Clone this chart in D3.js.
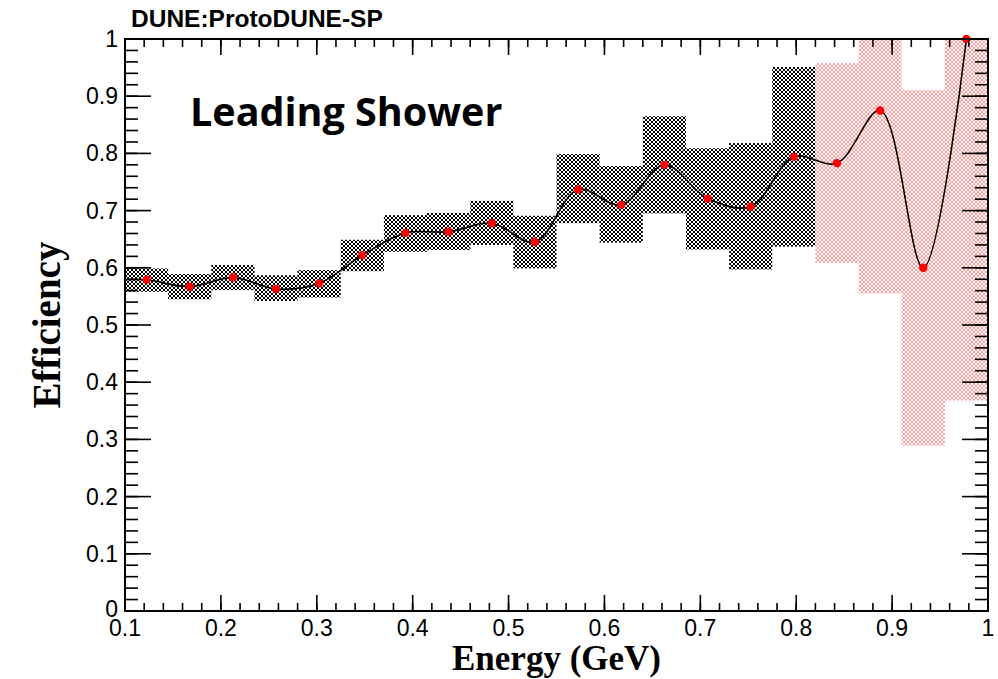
<!DOCTYPE html>
<html>
<head>
<meta charset="utf-8">
<script src="https://cdn.jsdelivr.net/npm/d3@7"></script>
<style>
  body { margin: 0; background: #fff; }
  svg { display: block; }
</style>
</head>
<body>
<script>
// data: 20 energy bins of 0.045 GeV
var binLow  = [0.100, 0.145, 0.190, 0.235, 0.280, 0.325, 0.370, 0.415, 0.460, 0.505,
               0.550, 0.595, 0.640, 0.685, 0.730, 0.775, 0.820, 0.865, 0.910, 0.955];
var binHigh = [0.145, 0.190, 0.235, 0.280, 0.325, 0.370, 0.415, 0.460, 0.505, 0.550,
               0.595, 0.640, 0.685, 0.730, 0.775, 0.820, 0.865, 0.910, 0.955, 1.000];
var energy  = [0.1225, 0.1675, 0.2125, 0.2575, 0.3025, 0.3475, 0.3925, 0.4375, 0.4825, 0.5275,
               0.5725, 0.6175, 0.6625, 0.7075, 0.7525, 0.7975, 0.8425, 0.8875, 0.9325, 0.9775];
var effic   = [0.579, 0.567, 0.583, 0.563, 0.573, 0.622, 0.661, 0.663, 0.678, 0.645,
               0.737, 0.710, 0.780, 0.721, 0.707, 0.794, 0.783, 0.875, 0.600, 1.000];
var errUp   = [0.599, 0.589, 0.605, 0.587, 0.596, 0.649, 0.692, 0.696, 0.717, 0.691,
               0.799, 0.778, 0.865, 0.809, 0.818, 0.951, 0.958, 1.000, 0.911, 1.000];
var errDown = [0.558, 0.545, 0.561, 0.542, 0.548, 0.594, 0.628, 0.631, 0.640, 0.599,
               0.678, 0.644, 0.695, 0.632, 0.597, 0.637, 0.609, 0.555, 0.289, 0.368];
// bins from 0.82 on are drawn in red
var redFrom = 0.82;

var xTicks = [0.1, 0.2, 0.3, 0.4, 0.5, 0.6, 0.7, 0.8, 0.9, 1];
var yTicks = [0, 0.1, 0.2, 0.3, 0.4, 0.5, 0.6, 0.7, 0.8, 0.9, 1];
var xLabels = ["0.1", "0.2", "0.3", "0.4", "0.5", "0.6", "0.7", "0.8", "0.9", "1"];
var yLabels = ["0", "0.1", "0.2", "0.3", "0.4", "0.5", "0.6", "0.7", "0.8", "0.9", "1"];

var canvasWidth = 998;
var canvasHeight = 679;
var margin = {top: 39, right: 10, bottom: 68, left: 125};
var width = canvasWidth - margin.left - margin.right;
var height = canvasHeight - margin.top - margin.bottom;

var svg = d3.select("body").append("svg")
    .attr("width", canvasWidth)
    .attr("height", canvasHeight);

// checkerboard fills like ROOT's dithered error boxes
var defs = svg.append("defs");
function makePattern(id, color) {
  var p = defs.append("pattern")
      .attr("id", id)
      .attr("patternUnits", "userSpaceOnUse")
      .attr("width", 4).attr("height", 4);
  p.append("rect").attr("width", 4).attr("height", 4).attr("fill", "#fff");
  p.append("rect").attr("x", 0).attr("y", 0).attr("width", 2).attr("height", 2).attr("fill", color);
  p.append("rect").attr("x", 2).attr("y", 2).attr("width", 2).attr("height", 2).attr("fill", color);
}
makePattern("checkBlack", "#000");
makePattern("checkRed", "#ff9c9c");

var canvas = svg.append("g")
    .attr("transform", "translate(" + margin.left + "," + margin.top + ")");

var xScale = d3.scaleLinear().domain([0.1, 1]).range([0, width]);
var yScale = d3.scaleLinear().domain([0, 1]).range([height, 0]);

canvas.append("clipPath").attr("id", "frameClip")
  .append("rect").attr("width", width).attr("height", height);

var plot = canvas.append("g").attr("clip-path", "url(#frameClip)");

// error boxes
plot.selectAll(".errbox")
    .data(energy)
    .enter().append("rect")
    .attr("class", "errbox")
    .attr("x", function(d, i) { return xScale(binLow[i]); })
    .attr("width", function(d, i) { return xScale(binHigh[i]) - xScale(binLow[i]); })
    .attr("y", function(d, i) { return yScale(errUp[i]); })
    .attr("height", function(d, i) { return yScale(errDown[i]) - yScale(errUp[i]); })
    .attr("fill", function(d, i) {
      return binLow[i] >= redFrom - 1e-9 ? "url(#checkRed)" : "url(#checkBlack)"; });

// smooth curve through the points, extended flat to the left edge
var curvePts = energy.map(function(d, i) { return [d, effic[i]]; });
curvePts.unshift([xScale.domain()[0], effic[0]]);

var line = d3.line()
    .x(function(d) { return xScale(d[0]); })
    .y(function(d) { return yScale(d[1]); })
    .curve(d3.curveCatmullRom.alpha(0.5));

plot.append("path")
    .datum(curvePts)
    .attr("d", line)
    .attr("fill", "none")
    .attr("stroke", "#000")
    .attr("stroke-width", 1.6);

canvas.selectAll(".dot")
    .data(energy)
    .enter().append("circle")
    .attr("class", "dot")
    .attr("cx", function(d) { return xScale(d); })
    .attr("cy", function(d, i) { return yScale(effic[i]); })
    .attr("r", 4.2)
    .attr("fill", "#ff0000");

// axes, ROOT style: ticks inside, on all four sides
var xMinor = d3.range(0.1, 1.0001, 0.02);
var yMinor = d3.range(0, 1.0001, 0.02);
var xMajorLen = 16, xMinorLen = 8, yMajorLen = 26, yMinorLen = 13;

function drawTicks(vals, isMajor) {
  var xl = isMajor ? xMajorLen : xMinorLen;
  var yl = isMajor ? yMajorLen : yMinorLen;
  var t = canvas.append("g").attr("stroke", "#000").attr("stroke-width", 1.6);
  t.selectAll(".xb").data(vals.x).enter().append("line")
      .attr("x1", function(d) { return xScale(d); }).attr("x2", function(d) { return xScale(d); })
      .attr("y1", height).attr("y2", height - xl);
  t.selectAll(".xt").data(vals.x).enter().append("line")
      .attr("x1", function(d) { return xScale(d); }).attr("x2", function(d) { return xScale(d); })
      .attr("y1", 0).attr("y2", xl);
  t.selectAll(".yl").data(vals.y).enter().append("line")
      .attr("y1", function(d) { return yScale(d); }).attr("y2", function(d) { return yScale(d); })
      .attr("x1", 0).attr("x2", yl);
  t.selectAll(".yr").data(vals.y).enter().append("line")
      .attr("y1", function(d) { return yScale(d); }).attr("y2", function(d) { return yScale(d); })
      .attr("x1", width).attr("x2", width - yl);
}
drawTicks({x: xMinor, y: yMinor}, false);
drawTicks({x: xTicks, y: yTicks}, true);

canvas.append("rect")
    .attr("width", width).attr("height", height)
    .attr("fill", "none").attr("stroke", "#000").attr("stroke-width", 2);

// tick labels
canvas.selectAll(".xlab").data(xTicks).enter().append("text")
    .attr("x", function(d) { return xScale(d); })
    .attr("y", height + 25)
    .attr("text-anchor", "middle")
    .style("font-family", "'Liberation Sans', Arial, sans-serif")
    .style("font-size", "23px")
    .text(function(d, i) { return xLabels[i]; });

canvas.selectAll(".ylab").data(yTicks).enter().append("text")
    .attr("x", -7)
    .attr("y", function(d) { return yScale(d) + (d === 0 ? 6 : 8); })
    .attr("text-anchor", "end")
    .style("font-family", "'Liberation Sans', Arial, sans-serif")
    .style("font-size", "23px")
    .text(function(d, i) { return yLabels[i]; });

// axis titles
svg.append("text")
    .attr("x", margin.left + width / 2)
    .attr("y", 670)
    .attr("text-anchor", "middle")
    .style("font-family", "'Liberation Serif', 'Times New Roman', serif")
    .style("font-weight", "bold")
    .style("font-size", "35px")
    .text("Energy (GeV)");

svg.append("text")
    .attr("transform", "translate(60," + (margin.top + height / 2) + ") rotate(-90)")
    .attr("text-anchor", "middle")
    .style("font-family", "'Liberation Serif', 'Times New Roman', serif")
    .style("font-weight", "bold")
    .style("font-size", "39px")
    .text("Efficiency");

svg.append("text")
    .attr("x", 131)
    .attr("y", 27)
    .style("font-family", "'Liberation Sans', Arial, sans-serif")
    .style("font-weight", "bold")
    .style("font-size", "24.5px")
    .text("DUNE:ProtoDUNE-SP");

svg.append("text")
    .attr("x", 190)
    .attr("y", 126)
    .style("font-family", "'Open Sans', Lato, sans-serif")
    .style("font-weight", "bold")
    .style("font-size", "39.5px")
    .text("Leading Shower");
</script>
</body>
</html>
